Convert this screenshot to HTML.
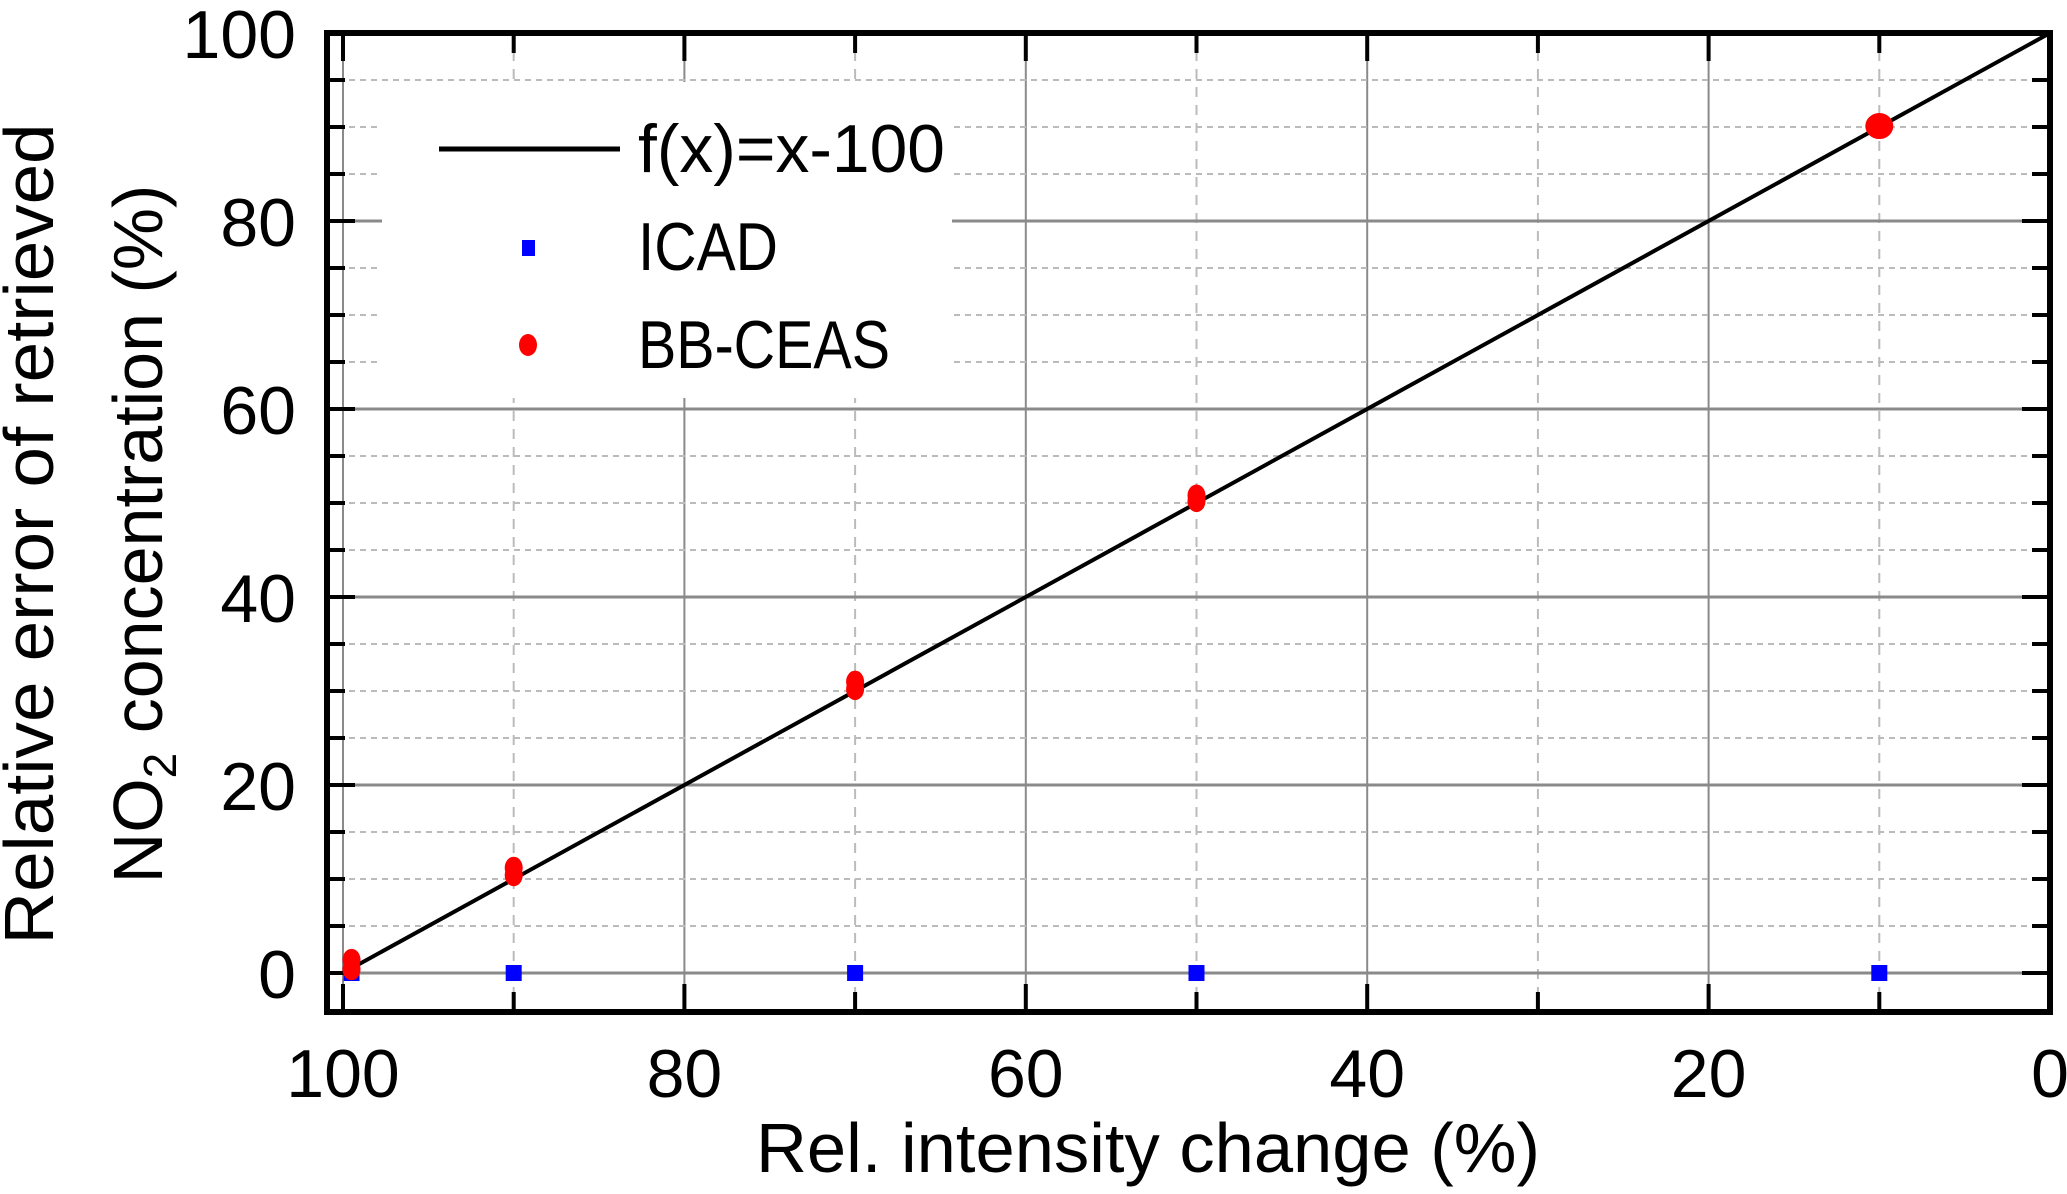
<!DOCTYPE html>
<html><head><meta charset="utf-8"><style>
html,body{margin:0;padding:0;background:#fff;}
svg text{font-family:"Liberation Sans Narrow","Liberation Sans",sans-serif;fill:#000;}
</style></head><body>
<svg id="chart" width="2067" height="1189" xmlns="http://www.w3.org/2000/svg">
<g id="grid"></g>
<g id="axes"></g>
<g id="marks"></g>
<g id="legend">
  <rect x="382" y="82" width="570" height="316" fill="#fff"/>
  <line x1="439" y1="149" x2="620" y2="149" stroke="#000" stroke-width="5"/>
  <text x="638" y="172" font-size="68" textLength="307" lengthAdjust="spacingAndGlyphs">f(x)=x-100</text>
  <rect x="522" y="240" width="13" height="16" fill="#0000ff"/>
  <text x="638" y="270" font-size="68" textLength="140" lengthAdjust="spacingAndGlyphs">ICAD</text>
  <ellipse cx="528" cy="345" rx="9" ry="11" fill="#ff0000"/>
  <text x="638" y="368" font-size="68" textLength="252" lengthAdjust="spacingAndGlyphs">BB-CEAS</text>
</g>
<text x="1148" y="1172" font-size="70" text-anchor="middle" textLength="784" lengthAdjust="spacingAndGlyphs">Rel. intensity change (%)</text>
<text transform="translate(53,534) rotate(-90)" font-size="70" text-anchor="middle" textLength="821" lengthAdjust="spacingAndGlyphs">Relative error of retrieved</text>
<text transform="translate(162,534) rotate(-90)" font-size="70" text-anchor="middle">NO<tspan font-size="46" dy="14">2</tspan><tspan dy="-14"> concentration (%)</tspan></text>
</svg>
<script>
const xTicks=[100,80,60,40,20,0];
const yTicks=[0,20,40,60,80,100];
const icadX=[99.5,90,70,50,10];
const icadY=[0,0,0,0,0];
const bbX=[99.5,99.5,90,90,70,70,50,50,10];
const bbY=[0.4,1.4,10.4,11.2,30.2,31,50.2,50.8,90.1];
const fitX=[100,0];

const NS='http://www.w3.org/2000/svg';
const L=327,R=2050,T=33,B=1012;
const sx=v=>343+(100-v)*(2050-343)/100;
const sy=v=>973-v*(973-33)/100;
function mk(tag,attrs,parent){const e=document.createElementNS(NS,tag);for(const k in attrs)e.setAttribute(k,attrs[k]);parent.appendChild(e);return e;}
const grid=document.getElementById('grid'),axes=document.getElementById('axes'),marks=document.getElementById('marks');
for(let v=0;v<=100;v+=10){
  const major=v%20===0;
  const g=mk('line',{x1:sx(v),x2:sx(v),y1:T,y2:B,stroke:major?'#8a8a8a':'#bbb','stroke-width':2,'stroke-dasharray':major?'':'10,8'},grid);
  
  
}
for(let v=0;v<=100;v+=5){
  const major=v%20===0;
  const g=mk('line',{x1:L,x2:R,y1:sy(v),y2:sy(v),stroke:major?'#8a8a8a':'#bbb','stroke-width':major?3:2,'stroke-dasharray':major?'':'6,5'},grid);
  
  
}
const fr=mk('rect',{x:L,y:T,width:R-L,height:B-T,fill:'none',stroke:'#000','stroke-width':6},axes);


for(let v=0;v<=100;v+=10){
  const len=v%20===0?28:20;
  const t1=mk('line',{x1:sx(v),x2:sx(v),y1:B,y2:B-len,stroke:'#000','stroke-width':4},axes);
  
  
  const t2=mk('line',{x1:sx(v),x2:sx(v),y1:T,y2:T+len,stroke:'#000','stroke-width':4},axes);
  
  
}
for(let v=0;v<=100;v+=5){
  const len=v%20===0?28:18;
  const t1=mk('line',{x1:L,x2:L+len,y1:sy(v),y2:sy(v),stroke:'#000','stroke-width':4},axes);
  
  
  const t2=mk('line',{x1:R,x2:R-len,y1:sy(v),y2:sy(v),stroke:'#000','stroke-width':4},axes);
  
  
}
xTicks.forEach(v=>{
  const t=mk('text',{x:sx(v),y:1097,'font-size':68,'text-anchor':'middle'},axes);t.textContent=v;
  
  
});
yTicks.forEach(v=>{
  const t=mk('text',{x:296,y:sy(v)+25,'font-size':68,'text-anchor':'end'},axes);t.textContent=v;
  
  
});
const fl=mk('line',{x1:sx(fitX[0]),y1:sy(100-fitX[0]),x2:sx(fitX[1]),y2:sy(100-fitX[1]),stroke:'#000','stroke-width':4},marks);


icadX.forEach((x,i)=>{
  const r=mk('rect',{x:sx(x)-8,y:sy(icadY[i])-8,width:16,height:16,fill:'#0000ff'},marks);
  
  
});
bbX.forEach((x,i)=>{
  const big=x<=10;
  const e=mk('ellipse',{cx:sx(x),cy:sy(bbY[i]),rx:big?14:9,ry:big?13:11,fill:'#ff0000'},marks);
  
  
});
</script>
</body></html>
